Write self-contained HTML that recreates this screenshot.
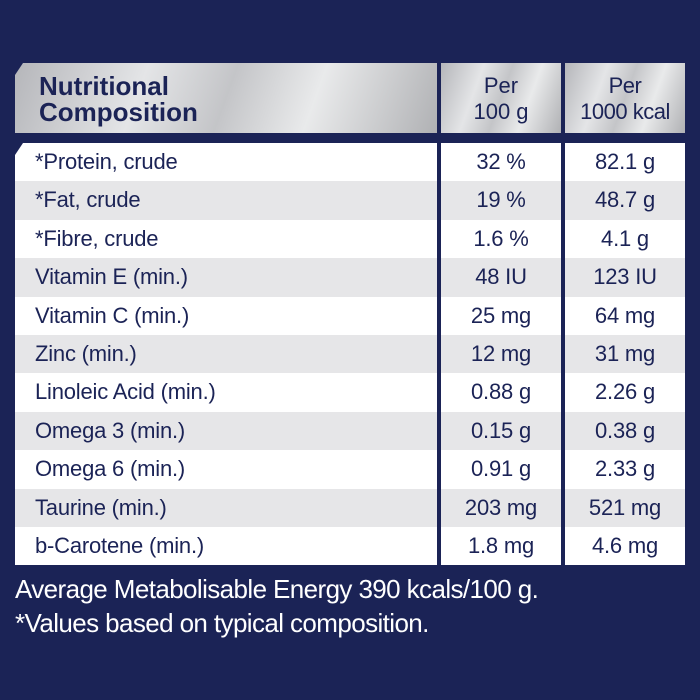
<!DOCTYPE html>
<html><head><style>
body{margin:0;width:700px;height:700px;background:#1b2356;font-family:"Liberation Sans",sans-serif;position:relative;overflow:hidden}
.c{position:absolute;box-sizing:border-box;color:#1b2356}
.h{top:63px;height:70px;background:linear-gradient(110deg,#b5b6ba 0%,#e4e5e7 30%,#c4c5c8 50%,#e9eaeb 70%,#b0b1b4 100%)}
.r{position:absolute;height:38.4px;font-size:22px;letter-spacing:-0.2px;line-height:38.4px;color:#1b2356}
.w{background:#fff}.g{background:#e6e6e8}
.t{position:absolute;color:#fff;font-size:26px;left:15px;letter-spacing:-0.6px}
</style></head><body>
<div class="c h" style="left:15px;width:422px;clip-path:polygon(8px 0,100% 0,100% 100%,0 100%,0 12px);font-weight:bold;font-size:26px;line-height:26px;padding:10px 0 0 24px">Nutritional<br>Composition</div>
<div class="c h" style="left:441px;width:120px;text-align:center;font-size:22px;line-height:26px;padding-top:10px">Per<br>100 g</div>
<div class="c h" style="left:565px;width:120px;text-align:center;font-size:22px;line-height:26px;padding-top:10px;letter-spacing:-0.5px">Per<br>1000 kcal</div>
<div id="rows"></div>
<div class="t" style="top:574px">Average Metabolisable Energy 390 kcals/100 g.</div>
<div class="t" style="top:608px">*Values based on typical composition.</div>
<script>
var d=[["*Protein, crude","32 %","82.1 g"],["*Fat, crude","19 %","48.7 g"],["*Fibre, crude","1.6 %","4.1 g"],["Vitamin E (min.)","48 IU","123 IU"],["Vitamin C (min.)","25 mg","64 mg"],["Zinc (min.)","12 mg","31 mg"],["Linoleic Acid (min.)","0.88 g","2.26 g"],["Omega 3 (min.)","0.15 g","0.38 g"],["Omega 6 (min.)","0.91 g","2.33 g"],["Taurine (min.)","203 mg","521 mg"],["b-Carotene (min.)","1.8 mg","4.6 mg"]];
var h="";d.forEach(function(r,i){var y=143+i*38.4,c=i%2?"g":"w";
h+='<div class="r '+c+'" style="top:'+y+'px;left:15px;width:422px;padding-left:20px;box-sizing:border-box;'+(i==0?'clip-path:polygon(8px 0,100% 0,100% 100%,0 100%,0 12px);':'')+'">'+r[0]+'</div>';
h+='<div class="r '+c+'" style="top:'+y+'px;left:441px;width:120px;text-align:center">'+r[1]+'</div>';
h+='<div class="r '+c+'" style="top:'+y+'px;left:565px;width:120px;text-align:center">'+r[2]+'</div>';});
document.getElementById("rows").innerHTML=h;
</script>
</body></html>
